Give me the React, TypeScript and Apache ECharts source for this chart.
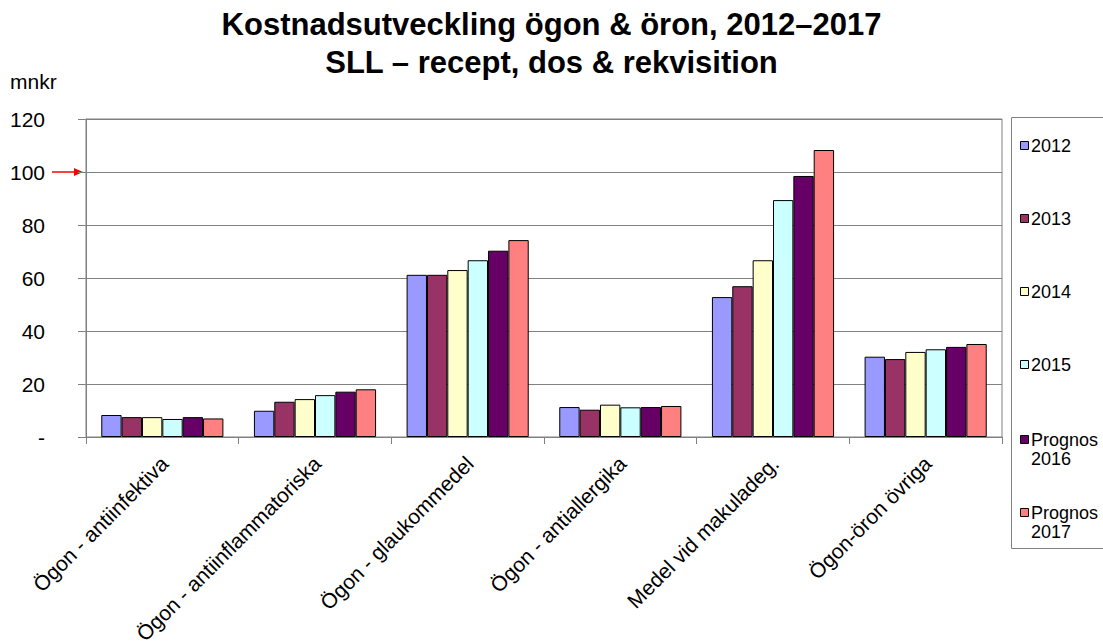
import React, { useEffect, useRef } from "react";
import * as echarts from "echarts";

const categories = [
  "Ögon - antiinfektiva",
  "Ögon - antiinflammatoriska",
  "Ögon - glaukommedel",
  "Ögon - antiallergika",
  "Medel vid makuladeg.",
  "Ögon-öron övriga",
];
const seriesNames = ["2012", "2013", "2014", "2015", "Prognos 2016", "Prognos 2017"];
const legendLabels = ["2012", "2013", "2014", "2015", "Prognos\n2016", "Prognos\n2017"];
const s2012 = [8.3, 9.9, 61.2, 11.3, 52.8, 30.3];
const s2013 = [7.5, 13.3, 61.2, 10.3, 56.9, 29.4];
const s2014 = [7.5, 14.3, 63.0, 12.2, 66.7, 32.1];
const s2015 = [6.8, 15.8, 66.7, 11.2, 89.4, 33.1];
const s2016 = [7.5, 17.1, 70.3, 11.3, 98.5, 34.0];
const s2017 = [7.0, 18.0, 74.3, 11.7, 108.3, 35.1];
const seriesValues = [s2012, s2013, s2014, s2015, s2016, s2017];
const colors = ["#9999FF", "#993366", "#FFFFCC", "#CCFFFF", "#660066", "#FF8080"];
const yTicks = { min: 0, max: 120, interval: 20 };

const FONT = "Arial, 'Liberation Sans', Helvetica, sans-serif";

export default function App() {
  const ref = useRef<HTMLDivElement>(null);
  useEffect(() => {
    if (!ref.current) return;
    const chart = echarts.init(ref.current, undefined, { renderer: "svg" });
    const legendY = [146, 219, 292, 365, 440, 513];
    const legendGraphics: any[] = [
      {
        type: "rect",
        shape: { x: 1011.5, y: 117.5, width: 100, height: 431 },
        style: { fill: "#fff", stroke: "#808080", lineWidth: 1 },
        z: 0,
      },
    ];
    seriesNames.forEach((_, i) => {
      legendGraphics.push({
        type: "rect",
        shape: { x: 1020.5, y: legendY[i] - 4.5, width: 8, height: 8 },
        style: { fill: colors[i], stroke: "#000", lineWidth: 1 },
        z: 2,
      });
      legendGraphics.push({
        type: "text",
        x: 1031,
        y: legendY[i] - 10,
        style: {
          text: legendLabels[i],
          fill: "#000",
          font: `18px ${FONT}`,
          lineHeight: 19,
          textVerticalAlign: "top",
        },
        z: 2,
      });
    });
    chart.setOption({
      animation: false,
      backgroundColor: "#fff",
      textStyle: { fontFamily: FONT },
      title: {
        text: "Kostnadsutveckling ögon & öron, 2012–2017\nSLL – recept, dos & rekvisition",
        left: "center",
        top: 0,
        textStyle: { fontSize: 31, fontWeight: "bold", color: "#000", lineHeight: 38, fontFamily: FONT },
      },
      grid: {
        left: 86,
        right: 101,
        top: 119,
        bottom: 207,
        show: true,
        borderColor: "#808080",
        borderWidth: 1,
        outerBoundsMode: "none",
        containLabel: false,
      },
      xAxis: {
        type: "category",
        data: categories,
        axisLine: { lineStyle: { color: "#808080" } },
        axisTick: { show: true, length: 7, lineStyle: { color: "#808080" } },
        axisLabel: {
          rotate: 45,
          interval: 0,
          margin: 11,
          fontSize: 21,
          lineHeight: 20,
          color: "#000",
          fontFamily: FONT,
          verticalAlign: "top",
          align: "right",
          padding: [0, 7, 0, 0],
        },
      },
      yAxis: {
        type: "value",
        min: yTicks.min,
        max: yTicks.max,
        interval: yTicks.interval,
        axisLine: { show: true, lineStyle: { color: "#808080" } },
        axisTick: { show: true, length: 8, lineStyle: { color: "#808080" } },
        splitLine: { lineStyle: { color: "#808080", width: 1 } },
        axisLabel: {
          margin: 41,
          fontSize: 21,
          color: "#000",
          fontFamily: FONT,
          formatter: (v: number) => (v === 0 ? "-" : String(v)),
        },
      },
      series: seriesNames.map((name, i) => ({
        name,
        type: "bar",
        data: seriesValues[i],
        barGap: "0%",
        barCategoryGap: "20%",
        itemStyle: { color: colors[i], borderColor: "#000", borderWidth: 1 },
      })),
      graphic: [
        {
          type: "text",
          x: 10,
          y: 71,
          style: { text: "mnkr", fill: "#000", font: `21px ${FONT}` },
        },
        {
          type: "line",
          shape: { x1: 52, y1: 172, x2: 75, y2: 172 },
          style: { stroke: "#FF0000", lineWidth: 1.5 },
        },
        {
          type: "polygon",
          shape: { points: [[74, 168], [83, 172], [74, 176]] },
          style: { fill: "#FF0000" },
        },
        ...legendGraphics,
      ],
    });
    return () => chart.dispose();
  }, []);
  return (
    <div
      ref={ref}
      style={{ position: "fixed", left: 0, top: 0, width: 1103, height: 644 }}
    />
  );
}
